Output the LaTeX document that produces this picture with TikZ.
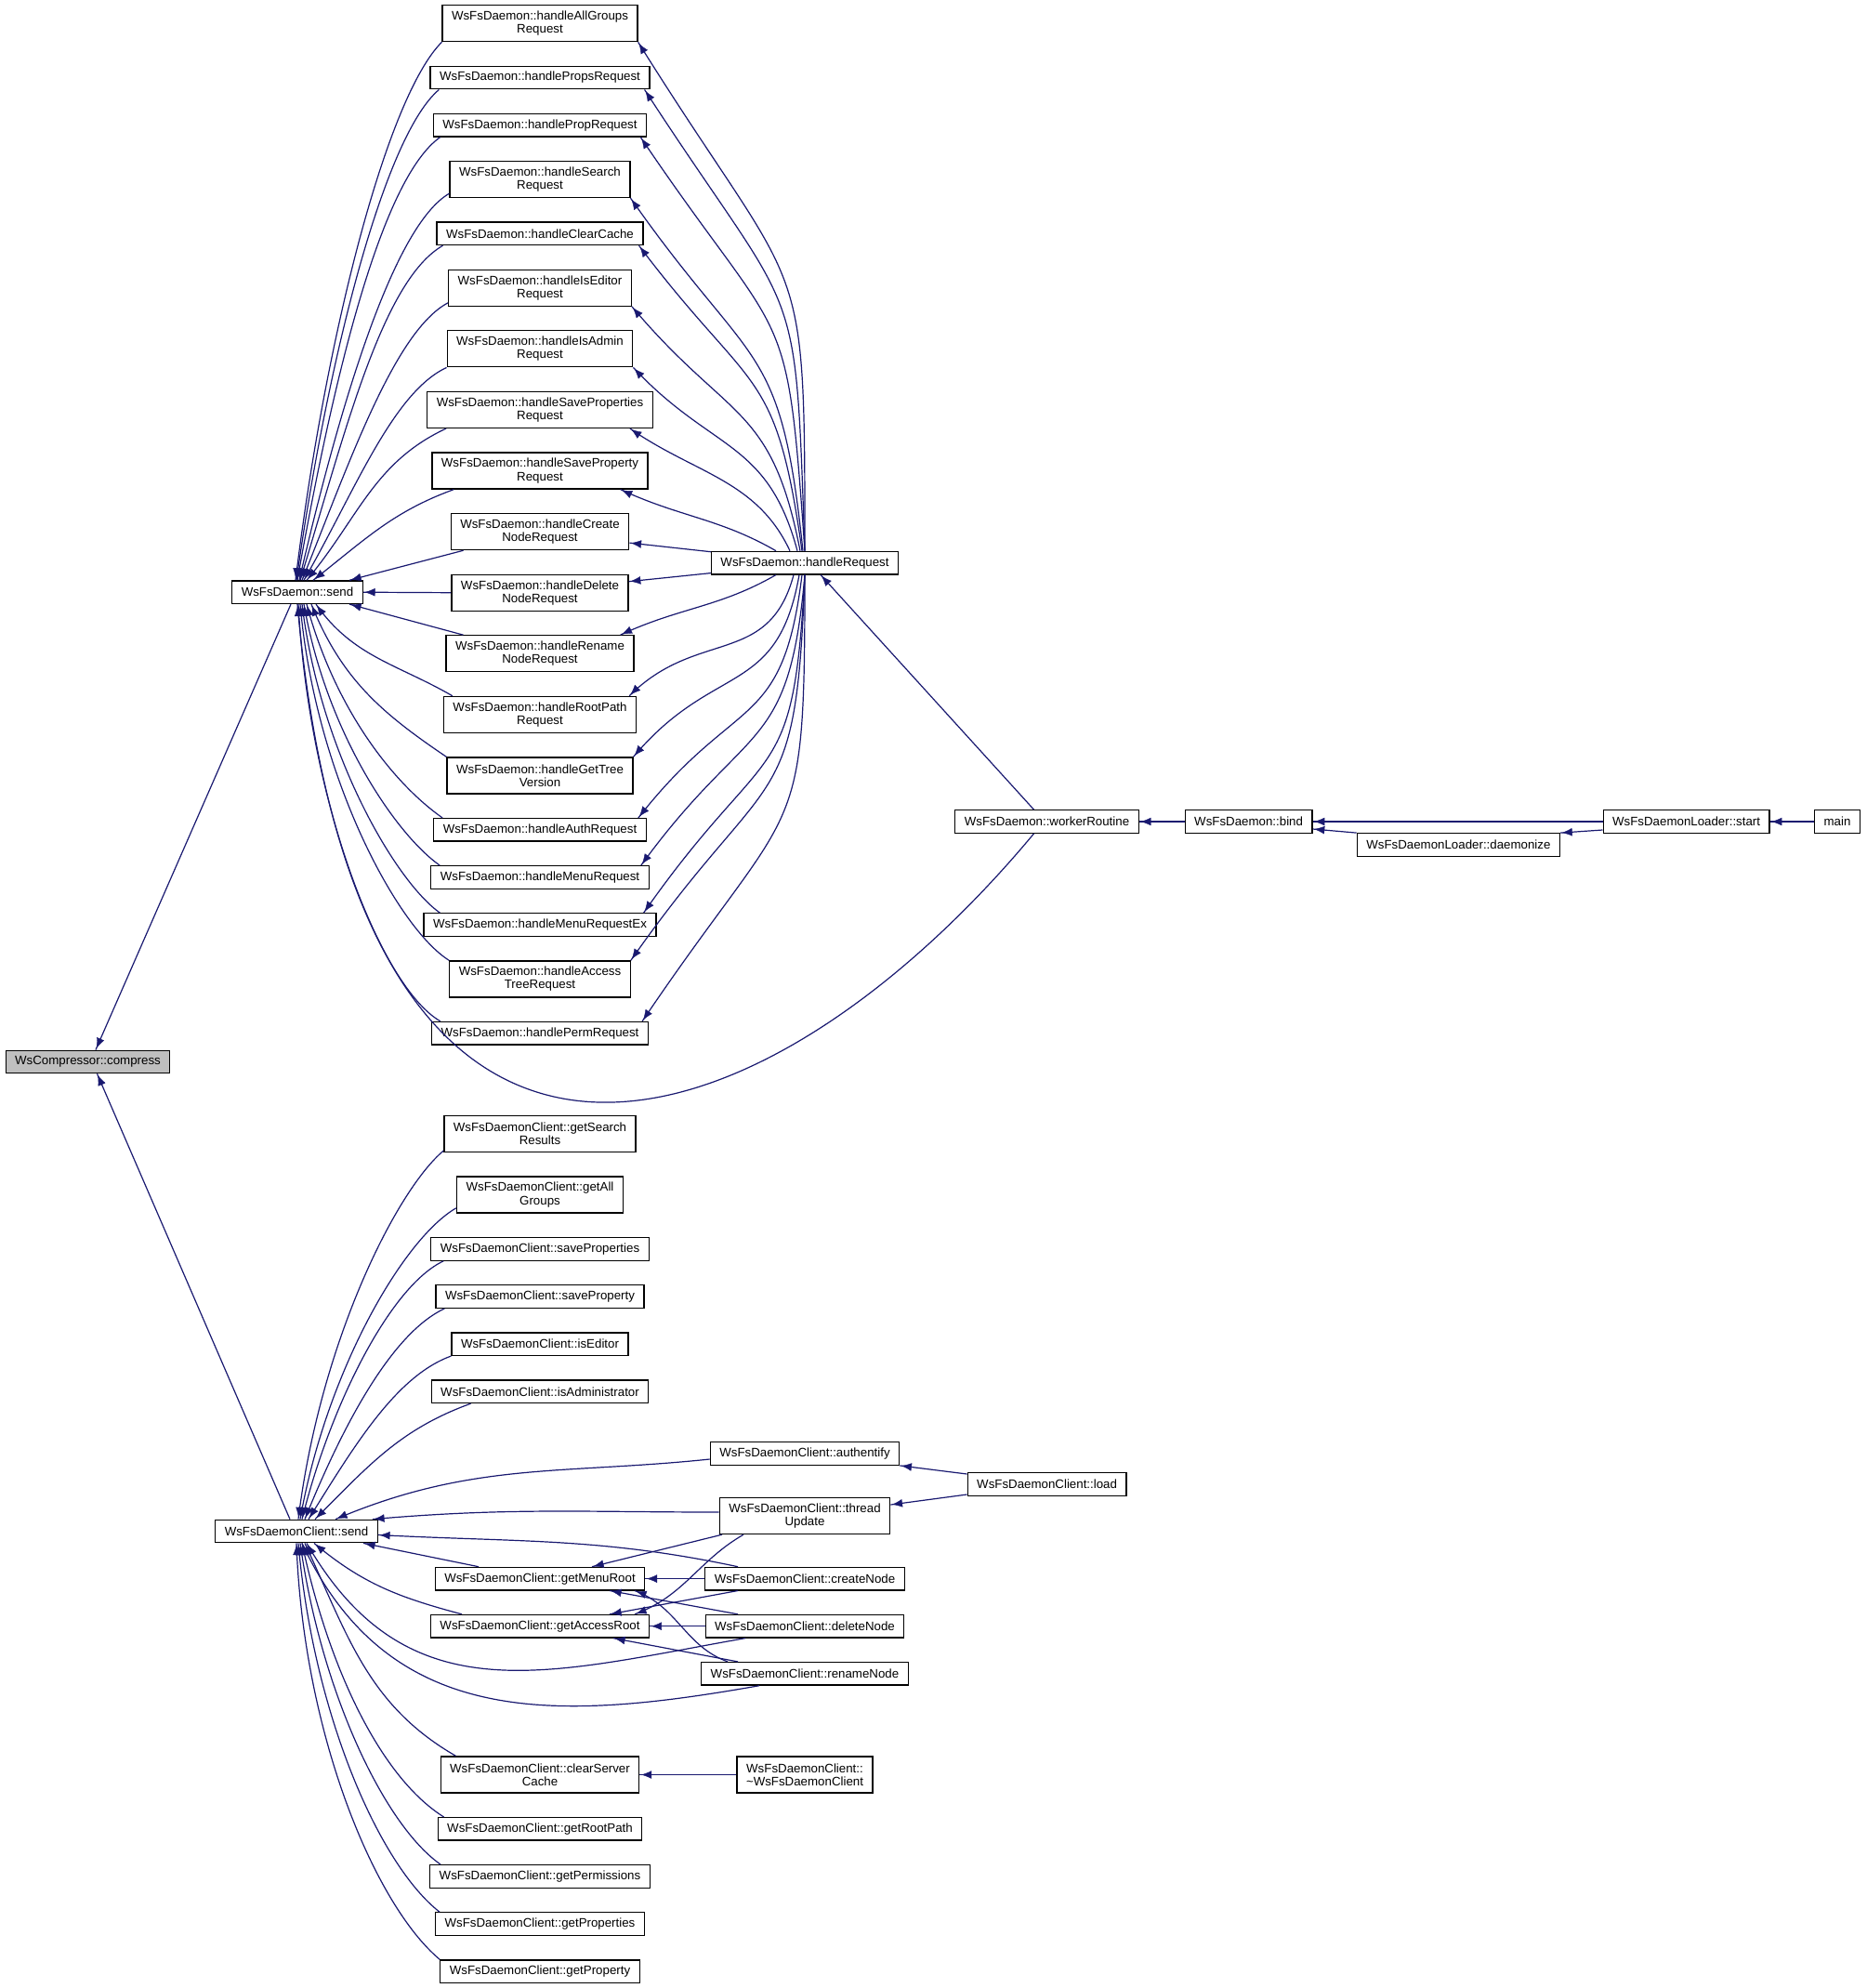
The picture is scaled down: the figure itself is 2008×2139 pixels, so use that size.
\documentclass[tikz,border=0pt]{standalone}
\usepackage{fontspec}
\setmainfont{Liberation Sans}
\usetikzlibrary{positioning, arrows.meta, decorations.markings}
\definecolor{edgeblue}{HTML}{191970}
\definecolor{focusgray}{HTML}{BFBFBF}
\tikzstyle{Fn} = [
draw=black, line width=1.3pt, fill=white, align=center,
inner xsep=10pt, inner ysep=0pt, minimum height=24.5pt,
font=\fontsize{13.3}{14.2}\selectfont]
\tikzstyle{Fn2} = [Fn, minimum height=39pt]
\tikzstyle{Arrow} = [
draw=edgeblue, line width=1.2pt,
decoration={
markings,
mark=at position 0.9999 with {
\arrow[edgeblue]{Latex[length=13pt,width=10pt]}}},
preaction = {decorate}]

\begin{document}
\begin{tikzpicture}[x=1pt, y=-1pt, node distance=25.3pt]
    \useasboundingbox (0,0) rectangle (2008,2139);

    \node [Fn, fill=focusgray] (1) at (94.5,1142.4) {WsCompressor::compress};
    \node [Fn] (2) at (320,637.2) {WsFsDaemon::send};
    \node [Fn] (3) at (319,1647.5) {WsFsDaemonClient::send};

    \node [Fn2] (4) at (581,25.2) {WsFsDaemon::handleAllGroups\\Request};
    \node [Fn, below =of 4] (5) {WsFsDaemon::handlePropsRequest};
    \node [Fn, below =of 5] (6) {WsFsDaemon::handlePropRequest};
    \node [Fn2, below =of 6] (7) {WsFsDaemon::handleSearch\\Request};
    \node [Fn, below =of 7] (8) {WsFsDaemon::handleClearCache};
    \node [Fn2, below =of 8] (9) {WsFsDaemon::handleIsEditor\\Request};
    \node [Fn2, below =of 9] (10) {WsFsDaemon::handleIsAdmin\\Request};
    \node [Fn2, below =of 10] (11) {WsFsDaemon::handleSaveProperties\\Request};
    \node [Fn2, below =of 11] (12) {WsFsDaemon::handleSaveProperty\\Request};
    \node [Fn2, below =of 12] (13) {WsFsDaemon::handleCreate\\NodeRequest};
    \node [Fn2, below =of 13] (14) {WsFsDaemon::handleDelete\\NodeRequest};
    \node [Fn2, below =of 14] (15) {WsFsDaemon::handleRename\\NodeRequest};
    \node [Fn2, below =of 15] (16) {WsFsDaemon::handleRootPath\\Request};
    \node [Fn2, below =of 16] (17) {WsFsDaemon::handleGetTree\\Version};
    \node [Fn, below =of 17] (18) {WsFsDaemon::handleAuthRequest};
    \node [Fn, below =of 18] (19) {WsFsDaemon::handleMenuRequest};
    \node [Fn, below =of 19] (20) {WsFsDaemon::handleMenuRequestEx};
    \node [Fn2, below =of 20] (21) {WsFsDaemon::handleAccess\\TreeRequest};
    \node [Fn, below =of 21] (22) {WsFsDaemon::handlePermRequest};

    \node [Fn] (23) at (866,605.6) {WsFsDaemon::handleRequest};
    \node [Fn] (24) at (1126.5,884) {WsFsDaemon::workerRoutine};
    \node [Fn] (25) at (1343.6,884) {WsFsDaemon::bind};
    \node [Fn] (26) at (1569.4,909) {WsFsDaemonLoader::daemonize};
    \node [Fn] (27) at (1814.6,884) {WsFsDaemonLoader::start};
    \node [Fn] (28) at (1977,884) {main};

    \node [Fn2] (29) at (581,1220) {WsFsDaemonClient::getSearch\\Results};
    \node [Fn2, below =of 29] (30) {WsFsDaemonClient::getAll\\Groups};
    \node [Fn, below =of 30] (31) {WsFsDaemonClient::saveProperties};
    \node [Fn, below =of 31] (32) {WsFsDaemonClient::saveProperty};
    \node [Fn, below =of 32] (33) {WsFsDaemonClient::isEditor};
    \node [Fn, below =of 33] (34) {WsFsDaemonClient::isAdministrator};
    \node [Fn] (35) at (581,1698.6) {WsFsDaemonClient::getMenuRoot};
    \node [Fn, below =of 35] (36) {WsFsDaemonClient::getAccessRoot};
    \node [Fn2] (37) at (581,1909.5) {WsFsDaemonClient::clearServer\\Cache};
    \node [Fn, below =of 37] (38) {WsFsDaemonClient::getRootPath};
    \node [Fn, below =of 38] (39) {WsFsDaemonClient::getPermissions};
    \node [Fn, below =of 39] (40) {WsFsDaemonClient::getProperties};
    \node [Fn, below =of 40] (41) {WsFsDaemonClient::getProperty};

    \node [Fn] (42) at (866,1564) {WsFsDaemonClient::authentify};
    \node [Fn2] (43) at (866,1631) {WsFsDaemonClient::thread\\Update};
    \node [Fn] (44) at (866,1698.6) {WsFsDaemonClient::createNode};
    \node [Fn, below =of 44] (45) {WsFsDaemonClient::deleteNode};
    \node [Fn, below =of 45] (46) {WsFsDaemonClient::renameNode};
    \node [Fn2] (47) at (866,1909.5) {WsFsDaemonClient::\\\textasciitilde WsFsDaemonClient};
    \node [Fn] (48) at (1126.6,1597) {WsFsDaemonClient::load};

    \draw[Arrow] ([xshift=-7pt]2.south) -- ([xshift=8.5pt]1.north);
    \draw[Arrow] ([xshift=-7pt]3.north) -- ([xshift=10pt]1.south);

    \draw[Arrow] (4.south west) to [out=-135, in=83, out looseness=0.35, in looseness=1.15] ([xshift=-2pt]2.north);
    \draw[Arrow] ([xshift=10pt]5.south west) to [out=-140, in=82, out looseness=0.35, in looseness=1.15] ([xshift=-1pt]2.north);
    \draw[Arrow] ([xshift=8pt]6.south west) to [out=-145, in=80, out looseness=0.4, in looseness=1.1] (2.north);
    \draw[Arrow] ([yshift=5pt]7.south west) to [out=-150, in=77, out looseness=0.4, in looseness=1.1] ([xshift=2pt]2.north);
    \draw[Arrow] ([xshift=7pt]8.south west) to [out=-150, in=73, out looseness=0.5, in looseness=1.05] ([xshift=3pt]2.north);
    \draw[Arrow] ([yshift=4pt]9.south west) to [out=-152, in=68, out looseness=0.5] ([xshift=5pt]2.north);
    \draw[Arrow] (10.south west) to [out=-155, in=60, out looseness=0.6] ([xshift=7pt]2.north);
    \draw[Arrow] ([xshift=21pt]11.south west) to [out=-155, in=50] ([xshift=10pt]2.north);
    \draw[Arrow] ([xshift=24pt]12.south west) to [out=-160, in=38] ([xshift=17pt]2.north);
    \draw[Arrow] ([xshift=14pt]13.south west) -- ([xshift=56pt]2.north);
    \draw[Arrow] (14.west) -- (2.east);
    \draw[Arrow] ([xshift=19pt]15.north west) -- ([xshift=56pt]2.south);
    \draw[Arrow] ([xshift=10pt]16.north west) to [out=150, in=-55] ([xshift=20pt]2.south);
    \draw[Arrow] (17.north west) to [out=146, in=-68] ([xshift=15pt]2.south);
    \draw[Arrow] ([xshift=10pt]18.north west) to [out=145, in=-75, out looseness=0.6, in looseness=1.1] ([xshift=10pt]2.south);
    \draw[Arrow] ([xshift=10pt]19.north west) to [out=145, in=-80, out looseness=0.45, in looseness=1.15] ([xshift=7pt]2.south);
    \draw[Arrow] ([xshift=18pt]20.north west) to [out=145, in=-83, out looseness=0.4, in looseness=1.15] ([xshift=5pt]2.south);
    \draw[Arrow] (21.north west) to [out=148, in=-85, out looseness=0.4, in looseness=1.15] ([xshift=3pt]2.south);
    \draw[Arrow] ([xshift=10pt]22.north west) to [out=150, in=-87, out looseness=0.4, in looseness=1.15] ([xshift=1pt]2.south);

    \draw[Arrow] (23.north) to [out=90, in=-58, looseness=1.5] (4.south east);
    \draw[Arrow] (23.north) to [out=92, in=-57, looseness=1.5] ([xshift=-6pt]5.south east);
    \draw[Arrow] (23.north) to [out=94, in=-56, looseness=1.5] ([xshift=-7pt]6.south east);
    \draw[Arrow] ([xshift=-2pt]23.north) to [out=96, in=-55, looseness=1.4] (7.south east);
    \draw[Arrow] ([xshift=-3pt]23.north) to [out=98, in=-53, looseness=1.4] ([xshift=-5pt]8.south east);
    \draw[Arrow] ([xshift=-5pt]23.north) to [out=101, in=-50, looseness=1.3] (9.south east);
    \draw[Arrow] ([xshift=-8pt]23.north) to [out=105, in=-47, looseness=1.2] (10.south east);
    \draw[Arrow] ([xshift=-16pt]23.north) to [out=115, in=-35] ([xshift=-25pt]11.south east);
    \draw[Arrow] ([xshift=-31pt]23.north) to [out=150, in=-25] ([xshift=-30pt]12.south east);
    \draw[Arrow] ([yshift=-1pt]23.north west) -- ([yshift=-12pt]13.east);
    \draw[Arrow] ([yshift=-11pt]23.west) -- ([yshift=12pt]14.east);
    \draw[Arrow] ([xshift=-31pt]23.south) to [out=-150, in=25] ([xshift=-15pt]15.north east);
    \draw[Arrow] ([xshift=-12pt]23.south) to [out=-105, in=45, looseness=1.2] ([xshift=-8pt]16.north east);
    \draw[Arrow] ([xshift=-6pt]23.south) to [out=-100, in=50, looseness=1.3] (17.north east);
    \draw[Arrow] ([xshift=-3pt]23.south) to [out=-97, in=52, looseness=1.4] ([xshift=-9pt]18.north east);
    \draw[Arrow] (23.south) to [out=-95, in=54, looseness=1.4] ([xshift=-9pt]19.north east);
    \draw[Arrow] (23.south) to [out=-93, in=55, looseness=1.5] ([xshift=-14pt]20.north east);
    \draw[Arrow] (23.south) to [out=-92, in=55, looseness=1.5] (21.north east);
    \draw[Arrow] (23.south) to [out=-90, in=56, looseness=1.5] ([xshift=-7pt]22.north east);

    \draw[Arrow] ([xshift=-14pt]24.north) -- ([xshift=17pt]23.south);
    \draw[Arrow] ([xshift=-14pt]24.south) .. controls +(-282,339) and +(68,760) .. (2.south);
    \draw[Arrow] (25.west) -- (24.east);
    \draw[Arrow] (27.west) -- (25.east);
    \draw[Arrow] (26.north west) -- ([yshift=-8pt]25.east);
    \draw[Arrow] ([yshift=-9pt]27.west) -- (26.north east);
    \draw[Arrow] (28.west) -- (27.east);

    \draw[Arrow] ([yshift=2pt]29.south west) to [out=-140, in=83, out looseness=0.4, in looseness=1.15] ([xshift=2pt]3.north);
    \draw[Arrow] ([yshift=6pt]30.south west) to [out=-150, in=80, out looseness=0.45, in looseness=1.1] ([xshift=4pt]3.north);
    \draw[Arrow] ([xshift=14pt]31.south west) to [out=-155, in=76, out looseness=0.5, in looseness=1.05] ([xshift=6pt]3.north);
    \draw[Arrow] ([xshift=10pt]32.south west) to [out=-155, in=68, out looseness=0.6] ([xshift=9pt]3.north);
    \draw[Arrow] (33.south west) to [out=-160, in=58, out looseness=0.7] ([xshift=13pt]3.north);
    \draw[Arrow] ([xshift=43pt]34.south west) to [out=-160, in=45] ([xshift=20pt]3.north);
    \draw[Arrow] ([yshift=-6pt]42.west) to [out=186, in=23] ([xshift=42pt]3.north);
    \draw[Arrow] ([yshift=4pt]43.west) to [out=180, in=5] ([xshift=-6pt]3.north east);
    \draw[Arrow] ([xshift=-72pt]44.north) to [out=168, in=-3] ([yshift=-4pt]3.east);
    \draw[Arrow] ([xshift=-66pt]35.north) -- ([xshift=-16pt]3.south east);
    \draw[Arrow] ([xshift=-84pt]36.north) to [out=165, in=-40] ([xshift=19pt]3.south);
    \draw[Arrow] ([xshift=-64pt]45.south) to [out=190, in=-60, looseness=1.15] ([xshift=11pt]3.south);
    \draw[Arrow] ([xshift=-49pt]46.south) to [out=190, in=-65, looseness=1.1] ([xshift=6pt]3.south);
    \draw[Arrow] ([xshift=17pt]37.north west) to [out=150, in=-65] ([xshift=9pt]3.south);
    \draw[Arrow] ([xshift=7pt]38.north west) to [out=148, in=-78, out looseness=0.6, in looseness=1.1] ([xshift=6pt]3.south);
    \draw[Arrow] ([xshift=12pt]39.north west) to [out=145, in=-82, out looseness=0.5, in looseness=1.1] ([xshift=4pt]3.south);
    \draw[Arrow] ([xshift=5pt]40.north west) to [out=142, in=-85, out looseness=0.5, in looseness=1.1] ([xshift=2pt]3.south);
    \draw[Arrow] (41.north west) to [out=140, in=-88, out looseness=0.5, in looseness=1.1] (3.south);

    \draw[Arrow] ([yshift=11pt]48.west) -- (42.south east);
    \draw[Arrow] ([yshift=-11pt]48.west) -- ([yshift=12pt]43.east);
    \draw[Arrow] ([xshift=-89pt]43.south) -- ([xshift=56pt]35.north);
    \draw[Arrow] ([xshift=-66pt]43.south) to [out=-150, in=20] ([xshift=102pt]36.north);
    \draw[Arrow] (44.west) -- (35.east);
    \draw[Arrow] ([xshift=-72pt]44.south) -- ([xshift=75pt]36.north);
    \draw[Arrow] ([xshift=-72pt]45.north) -- ([xshift=75pt]35.south);
    \draw[Arrow] (45.west) -- (36.east);
    \draw[Arrow] ([xshift=-83pt]46.north) to [out=160, in=-20] ([xshift=102pt]35.south);
    \draw[Arrow] ([xshift=-72pt]46.north) -- ([xshift=79pt]36.south);
    \draw[Arrow] (47.west) -- (37.east);
\end{tikzpicture}
\end{document}
